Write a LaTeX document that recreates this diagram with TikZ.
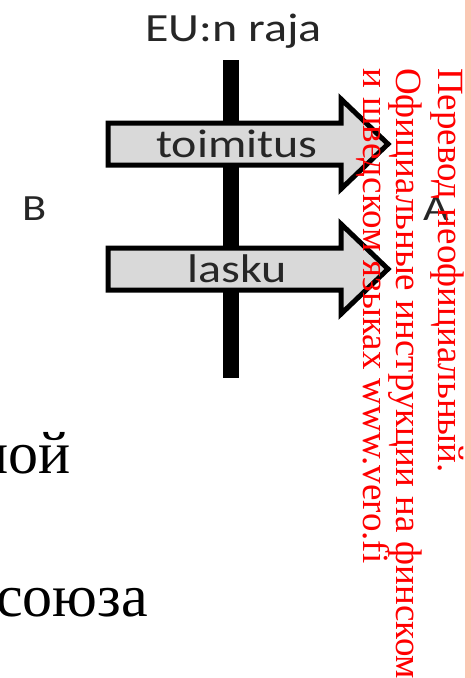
\documentclass[tikz,border=0pt]{standalone}
\usepackage{fontspec}
\newfontfamily\carlito{Carlito}
\newfontfamily\rutimes{Liberation Serif}
\definecolor{arrowgray}{RGB}{217,217,217}
\definecolor{labelgray}{RGB}{38,38,38}
\definecolor{stripsalmon}{RGB}{251,199,180}

\tikzset{
  diag/.style={font=\carlito\fontsize{40}{40}\selectfont, text=labelgray, inner sep=0pt},
  side/.style={font=\carlito\fontsize{37}{37}\selectfont, text=labelgray, inner sep=0pt, anchor=base west},
  note/.style={font=\rutimes\fontsize{37}{37}\selectfont, text=red, rotate=-90, anchor=base west, inner sep=0pt},
  slide/.style={font=\rutimes\fontsize{60}{60}\selectfont, inner sep=0pt, anchor=base east},
}

\begin{document}
\begin{tikzpicture}[x=1pt,y=-1pt]
  \useasboundingbox (0,0) rectangle (471,678);
  \clip (0,0) rectangle (471,678);
  \fill[stripsalmon] (465,0) rectangle (471,678);

  % the border
  \fill[black] (223,60) rectangle (239,378);
  \node[diag, anchor=base] (raja) at (233.5,41) {\scalebox{1.2}[1]{EU:n raja}};

  \foreach \name/\y in {toimitus/144,lasku/269} {
    \draw[line width=5pt, fill=arrowgray] (108,\y-21) -- (341,\y-21) -- (341,\y-45)
      -- (388,\y) -- (341,\y+45) -- (341,\y+21) -- (108,\y+21) -- cycle;
    \node[diag, anchor=base] (\name) at (237,\y+13) {\scalebox{1.2}[1]{\name}};
  }

  \node[side] (b) at (22,220) {\scalebox{1.2}[1]{B}};
  \node[side] (a) at (423,220) {\scalebox{1.2}[1]{A}};

  \node[slide] (noi) at (71,473) {ной};
  \node[slide] (soyuza) at (148,616) {союза};

  % watermark
  \node[note] (line1) at (438,68) {Перевод неофициальный.};
  \node[note] (line2) at (396,68) {Официальные инструкции на финском};
  \node[note] (line3) at (363,68) {и шведском языках www.vero.fi};
\end{tikzpicture}
\end{document}
